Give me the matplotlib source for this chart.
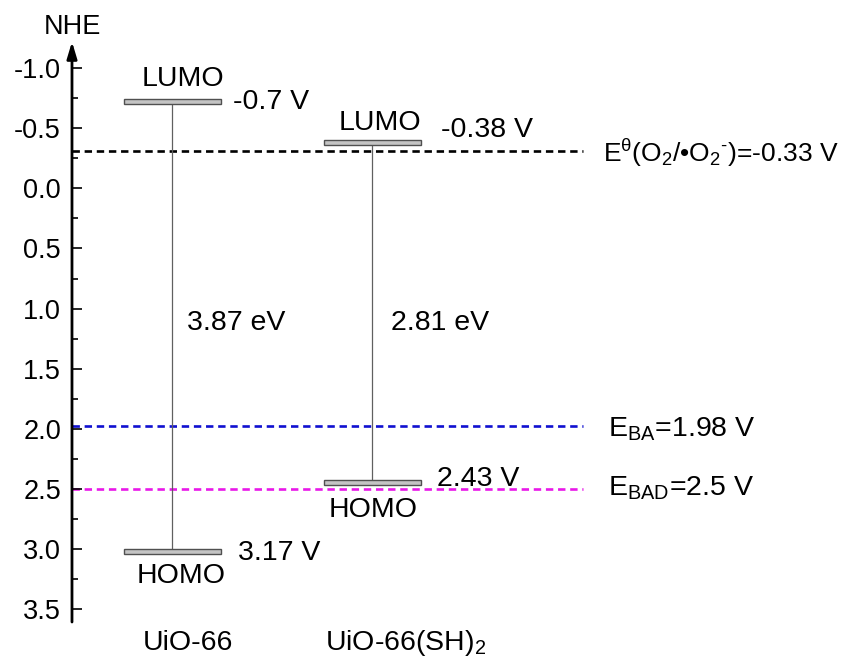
import matplotlib
matplotlib.use("Agg")
import matplotlib.pyplot as plt
from matplotlib.patches import Rectangle
from matplotlib.ticker import MultipleLocator, FuncFormatter

plt.rcParams['font.family'] = ['Liberation Sans', 'DejaVu Sans']
plt.rcParams['mathtext.fontset'] = 'custom'
plt.rcParams['mathtext.rm'] = 'Liberation Sans'
plt.rcParams['mathtext.it'] = 'Liberation Sans'
plt.rcParams['mathtext.bf'] = 'Liberation Sans:bold'
plt.rcParams['mathtext.default'] = 'regular'

# data (potential vs NHE, as drawn)
materials = ["UiO-66", r"UiO-66(SH)$_2$"]
x_pos = [1, 2]
lumo = [-0.72, -0.38]
homo = [3.02, 2.45]
lumo_labels = ["-0.7 V", "-0.38 V"]
homo_labels = ["3.17 V", "2.43 V"]
gap_labels = ["3.87 eV", "2.81 eV"]

ref_levels = [-0.31, 1.98, 2.5]
ref_colors = ["black", "#1010d0", "#e818e8"]
ref_labels = [r"E$^{θ}$(O$_2$/•O$_2$$^{‐}$)=-0.33 V", r"E$_{BA}$=1.98 V", r"E$_{BAD}$=2.5 V"]

FS = 20.5
TICK_FS = 19.5
bar_w = 0.485
bar_h = 0.042

fig = plt.figure(figsize=(8.54, 6.62), dpi=100)
ax = fig.add_axes([0.0843, 0.0604, 0.9157, 0.8766])
ax.set_xlim(0.4975, 4.4075)
ax.set_ylim(3.607, -1.22)

for s in ['top', 'right', 'bottom', 'left']:
    ax.spines[s].set_visible(False)
ax.set_xticks([])
ax.yaxis.set_minor_locator(MultipleLocator(0.25))
ax.set_yticks([-1.0, -0.5, 0.0, 0.5, 1.0, 1.5, 2.0, 2.5, 3.0, 3.5])
ax.yaxis.set_major_formatter(FuncFormatter(lambda v, p: f"{v:.1f}"))
ax.tick_params(axis='y', which='major', direction='in', length=7.5, width=1.2,
               labelsize=TICK_FS, pad=8)
ax.tick_params(axis='y', which='minor', direction='in', length=4.5, width=1.2)

# y axis with arrow
ax.annotate("", xy=(0, 1), xytext=(0, 0), xycoords='axes fraction',
            arrowprops=dict(arrowstyle='-|>,head_length=0.5,head_width=0.15',
                            lw=2, color='black', shrinkA=0, shrinkB=0,
                            mutation_scale=20))
ax.text(0.4975, -1.345, "NHE", fontsize=FS - 1, ha='center', va='center', clip_on=False)

# reference potentials
for lv, c in zip(ref_levels, ref_colors):
    ax.plot([0.4975, 3.0525], [lv, lv], color=c, lw=1.9, dashes=(2.8, 1.8), zorder=1)
ax.text(3.155, -0.223, ref_labels[0], fontsize=FS - 1.5, ha='left', va='baseline')
ax.text(3.1775, 2.065, ref_labels[1], fontsize=FS, ha='left', va='baseline')
ax.text(3.1775, 2.551, ref_labels[2], fontsize=FS, ha='left', va='baseline')

# band levels
for x, lu, ho in zip(x_pos, lumo, homo):
    ax.plot([x, x], [lu + bar_h / 2, ho - bar_h / 2], color='#606060', lw=0.9, zorder=2)
    for lv in (lu, ho):
        ax.add_patch(Rectangle((x - bar_w / 2, lv - bar_h / 2), bar_w, bar_h,
                               facecolor='#c4c4c4', edgecolor='#505050', lw=1, zorder=3))

# labels
ax.text(1.0525, -0.907, "LUMO", fontsize=FS, ha='center', va='center')
ax.text(2.035, -0.545, "LUMO", fontsize=FS, ha='center', va='center')
ax.text(1.3025, -0.715, lumo_labels[0], fontsize=FS, ha='left', va='center')
ax.text(2.3425, -0.483, lumo_labels[1], fontsize=FS, ha='left', va='center')
ax.text(1.0725, 1.119, gap_labels[0], fontsize=FS, ha='left', va='center')
ax.text(2.0925, 1.119, gap_labels[1], fontsize=FS, ha='left', va='center')
ax.text(1.3275, 3.032, homo_labels[0], fontsize=FS, ha='left', va='center')
ax.text(2.3225, 2.417, homo_labels[1], fontsize=FS, ha='left', va='center')
ax.text(1.0425, 3.224, "HOMO", fontsize=FS, ha='center', va='center')
ax.text(2.0025, 2.675, "HOMO", fontsize=FS, ha='center', va='center')

ax.text(1.075, 3.839, materials[0], fontsize=FS, ha='center', va='baseline', clip_on=False)
ax.text(1.7625, 3.839, materials[1], fontsize=FS, ha='left', va='baseline', clip_on=False)

fig.savefig("out.png", dpi=100)
